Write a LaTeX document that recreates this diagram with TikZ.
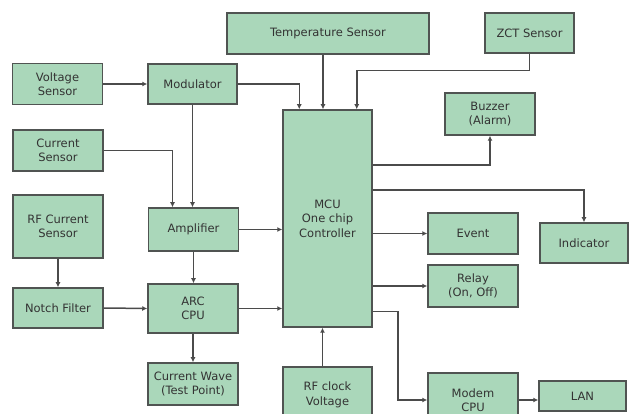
\documentclass[tikz,border=0pt]{standalone}
\usepackage{fontspec}
\setsansfont{DejaVu Sans}
\usetikzlibrary{arrows.meta,positioning}

\definecolor{blkfill}{RGB}{170,215,186}
\definecolor{blkline}{RGB}{80,84,82}
\definecolor{wirecol}{RGB}{75,75,75}

\begin{document}
\begin{tikzpicture}[
  x=1pt, y=-1pt,
  font=\sffamily\fontsize{11.5}{14.5}\selectfont,
  >={Latex[length=5pt,width=5pt]},
  blk/.style={draw=blkline, line width=1.5pt, fill=blkfill, text=black!80, align=center, inner sep=0pt, minimum width=90pt, minimum height=41pt},
  wire/.style={->, draw=wirecol, line width=1.5pt}
]
\useasboundingbox (0,0) rectangle (630,414);

% sensors on the left
\node[blk] (volt) at (57.5,84) {Voltage\\Sensor};
\node[blk] (cur) at (58,150.5) {Current\\Sensor};
\node[blk, minimum height=63pt] (rfc) at (58,226.5) {RF Current\\Sensor};
\node[blk, minimum height=40pt] (notch) at (58,308) {Notch Filter};

% signal chain
\node[blk, minimum width=89pt, minimum height=40pt] (mod) at (192.5,84) {Modulator};
\node[blk, minimum height=43pt] (amp) at (193.5,229.5) {Amplifier};
\node[blk, minimum height=49pt] (arc) at (193,308.5) {ARC\\CPU};
\node[blk, minimum height=42pt] (wave) at (193,384) {Current Wave\\(Test Point)};

% controller
\node[blk, minimum width=202pt] (temp) at (328,33.5) {Temperature Sensor};
\node[blk, minimum width=89pt, minimum height=40pt] (zct) at (529.5,33) {ZCT Sensor};
\node[blk, minimum width=89pt, minimum height=217pt] (mcu) at (327.5,218.5) {MCU\\One chip\\Controller};
\node[blk, minimum width=89pt, minimum height=56pt] (rfclk) at (327.5,395) {RF clock\\Voltage};

% outputs
\node[blk, minimum height=42pt] (buzz) at (490,114) {Buzzer\\(Alarm)};
\node[blk] (event) at (473,233.5) {Event};
\node[blk, minimum height=42pt] (relay) at (473,286) {Relay\\(On, Off)};
\node[blk, minimum width=88pt, minimum height=40pt] (ind) at (584,243) {Indicator};
\node[blk, minimum height=54pt] (modem) at (473,400) {Modem\\CPU};
\node[blk, minimum width=87pt, minimum height=30pt] (lan) at (582.5,396) {LAN};

\draw[wire] (volt.east) -- (mod.west);
\draw[wire] (mod.east) -| ([xshift=17pt]mcu.north west);
\draw[wire] ([xshift=-5pt]temp.south) -- ([xshift=-5pt]temp.south |- mcu.north);
\draw[wire] (zct.south) -- ++(0,-17pt) -| ([xshift=-16pt]mcu.north east);

\draw[wire] (cur.east) -| ([xshift=-21pt]amp.north);
\draw[wire] (mod.south) -- (mod.south |- amp.north);
\draw[wire] (amp.east) -- (amp.east -| mcu.west);
\draw[wire] (amp.south) -- (amp.south |- arc.north);
\draw[wire] (rfc.south) -- (notch.north);
\draw[wire] (notch.east) -- (arc.west);
\draw[wire] (arc.east) -- (arc.east -| mcu.west);
\draw[wire] (arc.south) -- (arc.south |- wave.north);
\draw[wire] ([xshift=-5pt]rfclk.north) -- ([xshift=-5pt]rfclk.north |- mcu.south);

\draw[wire] ([yshift=-56pt]mcu.north east) -| (buzz.south);
\draw[wire] ([yshift=-81pt]mcu.north east) -| (ind.north);
\draw[wire] (mcu.east |- event.west) -- (event.west);
\draw[wire] (mcu.east |- relay.west) -- (relay.west);
\draw[wire] ([yshift=16pt]mcu.south east) -- ++(25pt,0) |- (modem.west);
\draw[wire] (modem.east) -- (modem.east -| lan.west);

\end{tikzpicture}
\end{document}
